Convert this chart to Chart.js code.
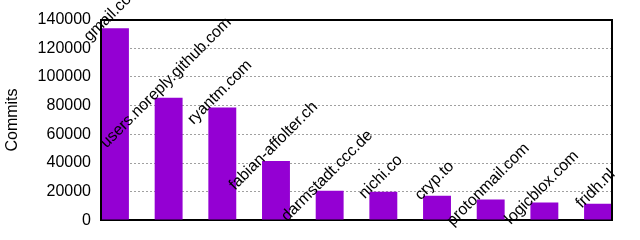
<!DOCTYPE html>
<html>
<head>
<meta charset="utf-8">
<script src="https://cdn.jsdelivr.net/npm/chart.js@4/dist/chart.umd.min.js"></script>
<style>
  html, body { margin: 0; padding: 0; background: #fff; }
  canvas { display: block; background: #fff; }
</style>
</head>
<body>
<canvas id="c" width="640" height="240"></canvas>
<script>
const categories = ["gmail.com", "users.noreply.github.com", "ryantm.com", "fabian-affolter.ch",
  "darmstadt.ccc.de", "nichi.co", "cryp.to", "protonmail.com", "logicblox.com", "fridh.nl"];
const commits = [134000, 85600, 78800, 41400, 20600, 19900, 17200, 14500, 12400, 11600];
const yMin = 0, yMax = 140000, yStep = 20000;

const FONT = "Liberation Sans, Arial, sans-serif";

const labelPlugin = {
  id: 'barLabels',
  afterDraw(chart) {
    const ctx = chart.ctx;
    const meta = chart.getDatasetMeta(0);
    ctx.save();
    ctx.fillStyle = '#000';
    ctx.font = '16px ' + FONT;
    ctx.textAlign = 'center';
    ctx.textBaseline = 'middle';
    meta.data.forEach((bar, i) => {
      ctx.save();
      ctx.translate(bar.x - 2.5, bar.y - 15);
      ctx.rotate(-Math.PI / 4);
      ctx.fillText(categories[i], 0, 0);
      ctx.restore();
    });
    ctx.restore();
  }
};

const isEdge = c => c.tick && (c.tick.value === yMin || c.tick.value === yMax);

new Chart(document.getElementById('c'), {
  type: 'bar',
  data: {
    datasets: [{
      data: commits.map((v, i) => ({ x: i, y: v })),
      backgroundColor: '#9400d3',
      borderWidth: 0,
      barPercentage: 0.52,
      categoryPercentage: 1
    }]
  },
  options: {
    responsive: false,
    animation: false,
    layout: { padding: { left: 0, right: 28, top: 15, bottom: 19 } },
    plugins: { legend: { display: false }, tooltip: { enabled: false } },
    scales: {
      x: { type: 'linear', min: -0.26, max: 9.26, offset: false, display: false },
      y: {
        position: 'left',
        min: yMin, max: yMax,
        afterFit(scale) { scale.width = 101; },
        ticks: {
          stepSize: yStep,
          color: '#000',
          font: { family: FONT, size: 16 },
          padding: 10,
          callback: v => String(v)
        },
        grid: {
          color: c => isEdge(c) ? '#000' : '#a0a0a0',
          drawTicks: false,
          lineWidth: c => isEdge(c) ? 2 : 1
        },
        border: {
          display: true, color: '#000', width: 2, z: 1,
          dash: c => (c.type === 'tick' && !isEdge(c)) ? [2, 2] : []
        },
        title: {
          display: true, text: 'Commits', color: '#000',
          font: { family: FONT, size: 16 },
          padding: { top: 3, bottom: 0 }
        }
      },
      yRight: {
        position: 'right', min: yMin, max: yMax,
        ticks: { display: false },
        grid: { display: false, drawTicks: false },
        border: { display: true, color: '#000', width: 2, z: 1 }
      }
    }
  },
  plugins: [labelPlugin]
});
</script>
</body>
</html>
